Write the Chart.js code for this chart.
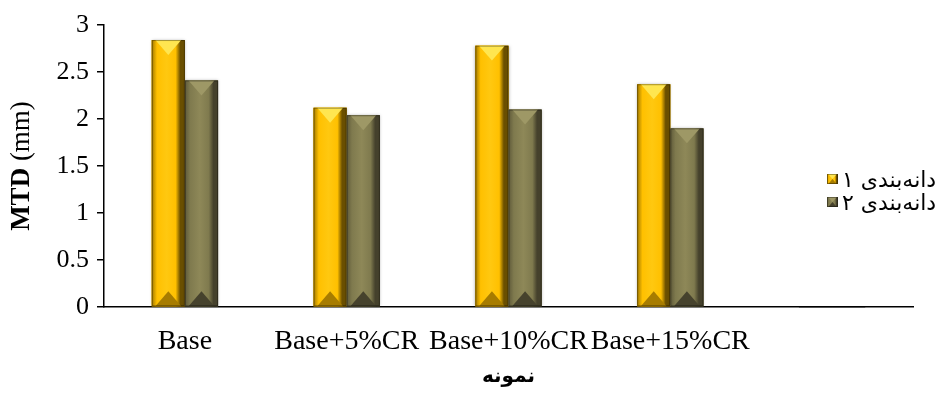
<!DOCTYPE html>
<html>
<head>
<meta charset="utf-8">
<script src="https://cdn.jsdelivr.net/npm/chart.js@4/dist/chart.umd.min.js"></script>
<style>
  html, body { margin: 0; padding: 0; background: #fff; overflow: hidden; }
  canvas { display: block; }
</style>
</head>
<body>
<canvas id="c" width="944" height="396"></canvas>
<script>
// Samples and mean texture depth per aggregate gradation
const categories = ['Base', 'Base+5%CR', 'Base+10%CR', 'Base+15%CR', ''];
const seriesNames = ['دانه\u200Cبندی ۱', 'دانه\u200Cبندی ۲'];
const gradation1 = [2.84, 2.12, 2.78, 2.37, null];
const gradation2 = [2.41, 2.04, 2.10, 1.90, null];
const yTicks = { min: 0, max: 3, step: 0.5 };
const yTitleBold = 'MTD';
const yTitleRest = ' (mm)';
const xTitle = 'نمونه';

// Shading palettes for the bevelled bars
const palettes = [
  { base: '#FFC000', left: '#A07800', face: '#FFC000', faceHi: '#FFC810', right: '#6A4F00', top: '#FFE650', bottom: '#A77C00' },
  { base: '#757046', left: '#5F5A3A', face: '#7F7A4E', faceHi: '#8E8858', right: '#45412C', top: '#9E9866', bottom: '#46422D' }
];

function bevelBox(ctx, L, T, R, B, p) {
  const w = R - L;
  const b = Math.max(2, Math.min(w * 0.22, (B - T) / 2));
  const mid = (L + R) / 2;
  const g = ctx.createLinearGradient(L, 0, R, 0);
  g.addColorStop(0, p.left);
  g.addColorStop(0.16, p.face);
  g.addColorStop(0.45, p.faceHi);
  g.addColorStop(0.72, p.face);
  g.addColorStop(0.86, p.right);
  g.addColorStop(1, p.right);
  ctx.fillStyle = g;
  ctx.fillRect(L, T, w, B - T);
  const capH = Math.min(w * 0.45, (B - T) / 2);
  ctx.fillStyle = p.top;
  ctx.beginPath();
  ctx.moveTo(L + b * 0.5, T);
  ctx.lineTo(R - b * 0.5, T);
  ctx.lineTo(mid, T + capH);
  ctx.closePath();
  ctx.fill();
  ctx.fillStyle = p.bottom;
  ctx.beginPath();
  ctx.moveTo(L + b * 0.5, B);
  ctx.lineTo(R - b * 0.5, B);
  ctx.lineTo(mid, B - capH);
  ctx.closePath();
  ctx.fill();
  ctx.strokeStyle = 'rgba(0,0,0,0.35)';
  ctx.lineWidth = 1;
  ctx.strokeRect(L + 0.5, T + 0.5, w - 1, B - T - 1);
}

const bevelBars = {
  id: 'bevelBars',
  afterDatasetsDraw(chart) {
    const ctx = chart.ctx;
    ctx.save();
    chart.data.datasets.forEach((ds, i) => {
      const meta = chart.getDatasetMeta(i);
      meta.data.forEach(el => {
        const { x, y, base, width } = el.getProps(['x', 'y', 'base', 'width'], true);
        if (y == null || isNaN(y)) return;
        const L = x - width / 2, R = x + width / 2;
        ctx.save();
        ctx.shadowColor = 'rgba(0,0,0,0.35)';
        ctx.shadowBlur = 3;
        ctx.fillStyle = palettes[i].base;
        ctx.fillRect(L, y, width, base - y);
        ctx.restore();
        bevelBox(ctx, L, y, R, base, palettes[i]);
      });
    });
    ctx.restore();
  }
};

const annotations = {
  id: 'annotations',
  afterDraw(chart) {
    const ctx = chart.ctx;
    const a = chart.chartArea;
    ctx.save();
    // y axis title, mixed weight, rotated
    ctx.translate(22, (a.top + a.bottom) / 2);
    ctx.rotate(-Math.PI / 2);
    ctx.textBaseline = 'middle';
    ctx.fillStyle = '#000';
    ctx.font = 'bold 27px "Liberation Serif"';
    const w1 = ctx.measureText(yTitleBold).width;
    ctx.font = '27px "Liberation Serif"';
    const w2 = ctx.measureText(yTitleRest).width;
    const sx = -(w1 + w2) / 2;
    ctx.font = 'bold 27px "Liberation Serif"';
    ctx.textAlign = 'left';
    ctx.fillText(yTitleBold, sx, 0);
    ctx.font = '27px "Liberation Serif"';
    ctx.fillText(yTitleRest, sx + w1, 0);
    ctx.restore();

    // x axis title
    ctx.save();
    ctx.fillStyle = '#000';
    ctx.font = 'bold 20px "DejaVu Sans"';
    ctx.textAlign = 'center';
    ctx.textBaseline = 'middle';
    ctx.fillText(xTitle, (a.left + a.right) / 2, 377);
    ctx.restore();

    // legend
    ctx.save();
    ctx.font = '22px "DejaVu Sans"';
    ctx.textBaseline = 'middle';
    ctx.textAlign = 'left';
    chart.data.datasets.forEach((ds, i) => {
      const cy = 179 + i * 23;
      bevelBox(ctx, 827, cy - 5, 838, cy + 5, palettes[i]);
      ctx.fillStyle = '#000';
      ctx.fillText(ds.label, 842, cy + 2);
    });
    ctx.restore();
  }
};

new Chart(document.getElementById('c'), {
  type: 'bar',
  data: {
    labels: categories,
    datasets: [
      { label: seriesNames[0], data: gradation1, backgroundColor: palettes[0].base },
      { label: seriesNames[1], data: gradation2, backgroundColor: palettes[1].base }
    ]
  },
  options: {
    responsive: false,
    animation: false,
    events: [],
    layout: { padding: { left: 0, right: 31, top: 25, bottom: 0 } },
    datasets: { bar: { categoryPercentage: 0.41, barPercentage: 1.0 } },
    plugins: { legend: { display: false }, tooltip: { enabled: false } },
    scales: {
      x: {
        grid: { display: false, drawTicks: false },
        border: { display: true, color: '#000', width: 1.5 },
        ticks: {
          color: '#000',
          font: { family: '"Liberation Serif"', size: 28 },
          padding: 18,
          maxRotation: 0,
          autoSkip: false
        },
        afterFit(scale) { scale.height = 89; }
      },
      y: {
        min: yTicks.min,
        max: yTicks.max,
        grid: { drawOnChartArea: false, drawTicks: true, tickLength: 7, color: '#000', lineWidth: 1.5 },
        border: { display: true, color: '#000', width: 1.5 },
        ticks: {
          stepSize: yTicks.step,
          color: '#000',
          font: { family: '"Liberation Serif"', size: 26 },
          padding: 8,
          callback: v => String(v)
        },
        afterFit(scale) { scale.width = 104; }
      }
    }
  },
  plugins: [bevelBars, annotations]
});
</script>
</body>
</html>
